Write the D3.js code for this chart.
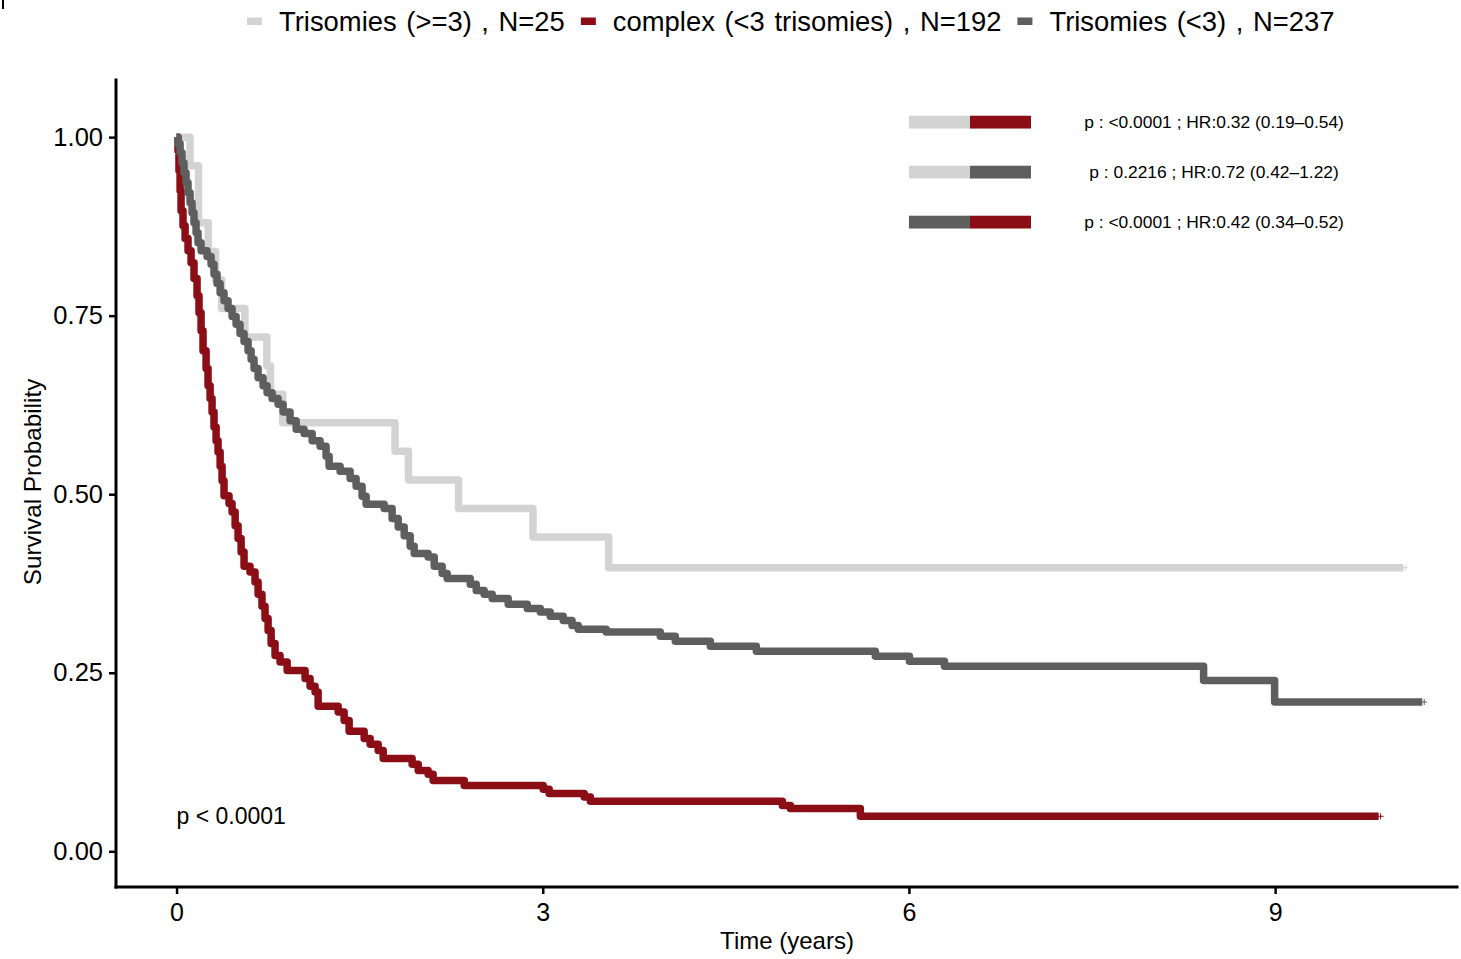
<!DOCTYPE html>
<html>
<head>
<meta charset="utf-8">
<script src="https://cdn.jsdelivr.net/npm/d3@7"></script>
<style>
  html, body { margin: 0; padding: 0; background: #fff; }
  svg { display: block; font-family: "Liberation Sans", Arial, Helvetica, sans-serif; }
</style>
</head>
<body>
<svg id="chart" width="1461" height="959"></svg>
<script>
// ---------------- DATA ----------------
const groupNames = ["Trisomies (>=3)", "complex (<3 trisomies)", "Trisomies (<3)"];
const groupN = [25, 192, 237];

// Trisomies (>=3), N=25 : step times (years) and survival after each step
const trisHighTime = [0, 0.11, 0.18, 0.26, 0.32, 0.37, 0.56, 0.74, 0.77, 0.87, 1.79, 1.90, 2.31, 2.92, 3.54, 10.05];
const trisHighSurv = [1, 0.96, 0.88, 0.84, 0.80, 0.76, 0.72, 0.68, 0.64, 0.60, 0.56, 0.52, 0.48, 0.44, 0.397, 0.397];

// complex (<3 trisomies), N=192
const complexTime = [0, 0.012, 0.02, 0.029, 0.037, 0.053, 0.07, 0.094, 0.119, 0.143, 0.168, 0.184, 0.201, 0.217,
  0.242, 0.258, 0.275, 0.291, 0.307, 0.324, 0.34, 0.357, 0.373, 0.389, 0.43, 0.455, 0.48, 0.504, 0.529, 0.553,
  0.602, 0.643, 0.668, 0.70, 0.725, 0.75, 0.775, 0.807, 0.848, 0.906, 1.053, 1.094, 1.135, 1.16, 1.324, 1.373,
  1.414, 1.537, 1.586, 1.652, 1.693, 1.93, 1.98, 2.061, 2.102, 2.357, 3.004, 3.053, 3.34, 3.39, 4.963, 5.029,
  5.602, 9.848];
const complexSurv = [1, 0.981, 0.953, 0.925, 0.897, 0.876, 0.858, 0.841, 0.824, 0.802, 0.778, 0.754, 0.729, 0.701,
  0.676, 0.652, 0.634, 0.615, 0.594, 0.575, 0.559, 0.539, 0.519, 0.498, 0.487, 0.475, 0.456, 0.438, 0.419, 0.399,
  0.391, 0.377, 0.36, 0.343, 0.326, 0.309, 0.291, 0.274, 0.265, 0.253, 0.242, 0.231, 0.223, 0.203, 0.195, 0.183,
  0.168, 0.158, 0.15, 0.141, 0.13, 0.122, 0.113, 0.108, 0.099, 0.092, 0.087, 0.081, 0.076, 0.07, 0.064, 0.06,
  0.049, 0.049];

// Trisomies (<3), N=237
const trisLowTime = [0, 0.012, 0.029, 0.045, 0.061, 0.078, 0.094, 0.111, 0.127, 0.143, 0.16, 0.176, 0.201, 0.25,
  0.283, 0.307, 0.332, 0.357, 0.389, 0.422, 0.455, 0.488, 0.52, 0.553, 0.586, 0.611, 0.635, 0.668, 0.709, 0.742,
  0.783, 0.832, 0.873, 0.93, 0.98, 1.045, 1.111, 1.176, 1.225, 1.25, 1.34, 1.422, 1.471, 1.52, 1.553, 1.701,
  1.766, 1.816, 1.865, 1.914, 1.947, 2.061, 2.111, 2.176, 2.217, 2.406, 2.455, 2.52, 2.586, 2.717, 2.873, 2.98,
  3.061, 3.168, 3.24, 3.291, 3.52, 3.963, 4.086, 4.373, 4.75, 5.725, 6.004, 6.291, 8.414, 8.996, 10.205];
const trisLowSurv = [1, 0.991, 0.978, 0.964, 0.95, 0.936, 0.922, 0.908, 0.894, 0.88, 0.866, 0.852, 0.841, 0.833,
  0.822, 0.808, 0.795, 0.782, 0.771, 0.76, 0.749, 0.738, 0.725, 0.714, 0.701, 0.689, 0.676, 0.663, 0.652, 0.642,
  0.634, 0.626, 0.615, 0.603, 0.591, 0.585, 0.575, 0.567, 0.553, 0.539, 0.532, 0.522, 0.511, 0.497, 0.486, 0.48,
  0.466, 0.454, 0.442, 0.427, 0.417, 0.412, 0.399, 0.389, 0.382, 0.374, 0.365, 0.36, 0.354, 0.346, 0.34, 0.335,
  0.329, 0.323, 0.316, 0.311, 0.307, 0.301, 0.294, 0.287, 0.28, 0.273, 0.266, 0.259, 0.239, 0.209, 0.209];

const xTicks = [0, 3, 6, 9];
const yTicks = [0, 0.25, 0.5, 0.75, 1.0];
const overallP = "p < 0.0001";

// pairwise comparisons: [left group, right group] and labels
const hrPairs = [[0, 1], [0, 2], [2, 1]];
const hrLabels = [
  "p : <0.0001 ; HR:0.32 (0.19\u20130.54)",
  "p : 0.2216 ; HR:0.72 (0.42\u20131.22)",
  "p : <0.0001 ; HR:0.42 (0.34\u20130.52)"
];

// ---------------- STYLE ----------------
const colors = ["#d3d3d3", "#8b0e16", "#5e5e5e"];
const series = [
  { time: trisHighTime, surv: trisHighSurv },
  { time: complexTime, surv: complexSurv },
  { time: trisLowTime, surv: trisLowSurv }
];

const svg = d3.select("#chart");
const x = d3.scaleLinear().domain([-0.496, 10.49]).range([116, 1457]);
const y = d3.scaleLinear().domain([-0.05, 1.08]).range([887, 80]);

// stray mark top-left
svg.append("line").attr("x1", 3).attr("x2", 3).attr("y1", 0).attr("y2", 9)
  .attr("stroke", "#000").attr("stroke-width", 2);

// ---------------- CURVES ----------------
const line = d3.line().x(d => x(d[0])).y(d => y(d[1])).curve(d3.curveStepAfter);
series.forEach((s, i) => {
  const pts = s.time.map((t, k) => [t, s.surv[k]]);
  svg.append("path")
    .attr("d", line(pts))
    .attr("fill", "none")
    .attr("stroke", colors[i])
    .attr("stroke-width", 7.5)
    .attr("stroke-linejoin", "round")
    .attr("stroke-linecap", "butt");
  // censor mark at the end
  const last = pts[pts.length - 1];
  const cx = x(last[0]) + 2, cy = y(last[1]);
  svg.append("path")
    .attr("d", `M${cx - 3},${cy}H${cx + 3}M${cx},${cy - 3}V${cy + 3}`)
    .attr("stroke", colors[i]).attr("stroke-width", 1);
});

// ---------------- AXES ----------------
const yAxis = d3.axisLeft(y).tickValues(yTicks).tickFormat(d3.format(".2f")).tickSize(7).tickPadding(6).tickSizeOuter(0);
const gy = svg.append("g").attr("transform", "translate(116,0)").call(yAxis);
gy.select(".domain").remove();
gy.selectAll(".tick line").attr("stroke", "#000").attr("stroke-width", 2.5);
gy.selectAll(".tick text").attr("font-size", 25.5).attr("fill", "#000")
  .attr("font-family", "Liberation Sans, Arial, sans-serif");

const xAxis = d3.axisBottom(x).tickValues(xTicks).tickFormat(d3.format("d")).tickSize(7).tickPadding(9).tickSizeOuter(0);
const gx = svg.append("g").attr("transform", "translate(0,887)").call(xAxis);
gx.select(".domain").remove();
gx.selectAll(".tick line").attr("stroke", "#000").attr("stroke-width", 2.5);
gx.selectAll(".tick text").attr("font-size", 25).attr("fill", "#000")
  .attr("font-family", "Liberation Sans, Arial, sans-serif");

svg.append("line").attr("x1", 116).attr("x2", 116).attr("y1", 80).attr("y2", 887)
  .attr("stroke", "#000").attr("stroke-width", 3).attr("stroke-linecap", "square");
svg.append("line").attr("x1", 116).attr("x2", 1457).attr("y1", 887).attr("y2", 887)
  .attr("stroke", "#000").attr("stroke-width", 3).attr("stroke-linecap", "square");

// axis titles
svg.append("text").attr("x", 787).attr("y", 949).attr("text-anchor", "middle")
  .attr("font-size", 24).text("Time (years)");
svg.append("text").attr("transform", "translate(41,482) rotate(-90)").attr("text-anchor", "middle")
  .attr("font-size", 24.3).text("Survival Probability");

// overall p value
svg.append("text").attr("x", x(0)).attr("y", 824).attr("font-size", 23).text(overallP);

// ---------------- PAIRWISE HR ANNOTATIONS ----------------
const hrRowY = [1.021, 0.951, 0.881];
hrPairs.forEach((pair, r) => {
  const yy = y(hrRowY[r]);
  svg.append("rect").attr("x", x(6.0)).attr("y", yy - 6.4).attr("width", x(6.5) - x(6.0)).attr("height", 12.8)
    .attr("fill", colors[pair[0]]);
  svg.append("rect").attr("x", x(6.5)).attr("y", yy - 6.4).attr("width", x(7.0) - x(6.5)).attr("height", 12.8)
    .attr("fill", colors[pair[1]]);
  svg.append("text").attr("x", x(8.5)).attr("y", yy + 6).attr("text-anchor", "middle")
    .attr("font-size", 17.4).text(hrLabels[r]);
});

// ---------------- LEGEND ----------------
let lx = 247;
groupNames.forEach((g, i) => {
  svg.append("rect").attr("x", lx).attr("y", 17.5).attr("width", 15).attr("height", 7.5).attr("fill", colors[i]);
  const t = svg.append("text").attr("x", lx + 32).attr("y", 31).attr("font-size", 27.4)
    .attr("word-spacing", 2).attr("xml:space", "preserve")
    .text(`${g} , N=${groupN[i]}`);
  const w = t.node().getComputedTextLength();
  lx = lx + 32 + w + 16;
});
</script>
</body>
</html>
